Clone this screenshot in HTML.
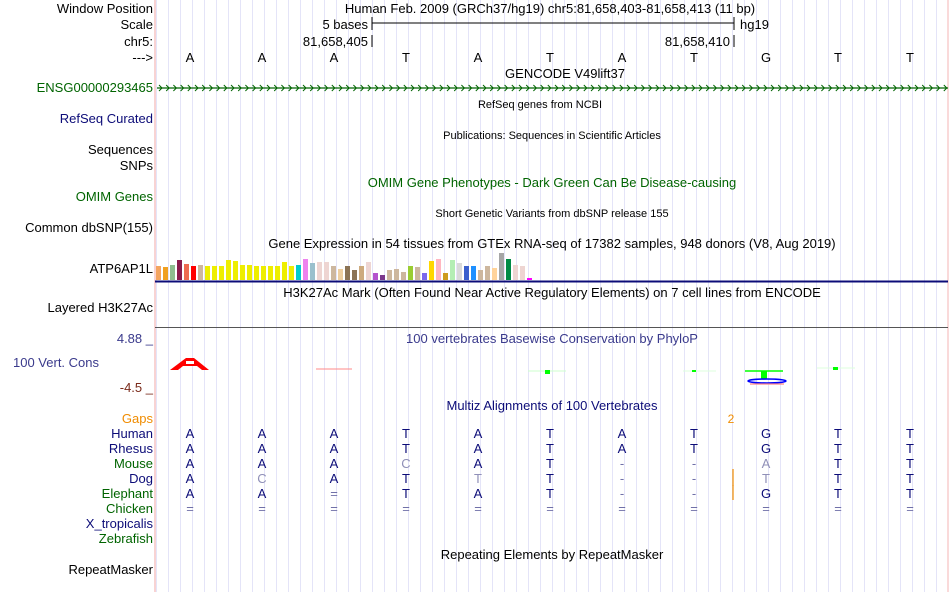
<!DOCTYPE html>
<html><head><meta charset="utf-8">
<style>
html,body{margin:0;padding:0;background:#fff;}
svg{display:block;font-family:"Liberation Sans",sans-serif;}
</style></head>
<body>
<svg id="ucsc" width="950" height="592" viewBox="0 0 950 592">
<g id="grid"></g>
<line x1="155" y1="0" x2="155" y2="592" stroke="#f4b6b6" stroke-width="1.2"/>
<g font-size="13" fill="#000" text-anchor="end">
<text x="153" y="13">Window Position</text>
<text x="153" y="29">Scale</text>
<text x="153" y="46">chr5:</text>
<text x="153" y="62">---&gt;</text>
<text x="153" y="92" fill="#006400">ENSG00000293465</text>
<text x="153" y="123" fill="#0c0c78">RefSeq Curated</text>
<text x="153" y="154">Sequences</text>
<text x="153" y="170">SNPs</text>
<text x="153" y="201" fill="#006400">OMIM Genes</text>
<text x="153" y="232">Common dbSNP(155)</text>
<text x="153" y="273">ATP6AP1L</text>
<text x="153" y="312">Layered H3K27Ac</text>
<text x="153" y="343" fill="#3a3a8c">4.88 _</text>
<text x="13" y="367" fill="#3a3a8c" text-anchor="start">100 Vert. Cons</text>
<text x="153" y="392" fill="#7a2a1a">-4.5 _</text>
<text x="153" y="423" fill="#f08c00">Gaps</text>
<text x="153" y="438" fill="#0c0c78">Human</text>
<text x="153" y="453" fill="#0c0c78">Rhesus</text>
<text x="153" y="468" fill="#006400">Mouse</text>
<text x="153" y="483" fill="#0c0c78">Dog</text>
<text x="153" y="498" fill="#006400">Elephant</text>
<text x="153" y="513" fill="#006400">Chicken</text>
<text x="153" y="528" fill="#0c0c78">X_tropicalis</text>
<text x="153" y="543" fill="#006400">Zebrafish</text>
<text x="153" y="574">RepeatMasker</text>
</g>
<g font-size="13" text-anchor="middle">
<text x="550" y="13">Human Feb. 2009 (GRCh37/hg19)   chr5:81,658,403-81,658,413 (11 bp)</text>
<text x="565" y="78">GENCODE V49lift37</text>
<text x="540" y="108" font-size="11">RefSeq genes from NCBI</text>
<text x="552" y="139" font-size="11">Publications: Sequences in Scientific Articles</text>
<text x="552" y="187" fill="#006400">OMIM Gene Phenotypes - Dark Green Can Be Disease-causing</text>
<text x="552" y="217" font-size="11">Short Genetic Variants from dbSNP release 155</text>
<text x="552" y="248">Gene Expression in 54 tissues from GTEx RNA-seq of 17382 samples, 948 donors (V8, Aug 2019)</text>
<text x="552" y="297">H3K27Ac Mark (Often Found Near Active Regulatory Elements) on 7 cell lines from ENCODE</text>
<text x="552" y="343" fill="#3a3a8c">100 vertebrates Basewise Conservation by PhyloP</text>
<text x="552" y="410" fill="#0c0c78">Multiz Alignments of 100 Vertebrates</text>
<text x="552" y="559">Repeating Elements by RepeatMasker</text>
</g>
<g>
<text x="368" y="29" font-size="13" text-anchor="end">5 bases</text>
<line x1="372" y1="23" x2="734" y2="23" stroke="#000"/>
<line x1="372" y1="17" x2="372" y2="30" stroke="#000"/>
<line x1="734" y1="17" x2="734" y2="30" stroke="#000"/>
<text x="740" y="29" font-size="13">hg19</text>
<text x="368" y="46" font-size="13" text-anchor="end">81,658,405</text>
<line x1="372" y1="35" x2="372" y2="47" stroke="#000"/>
<text x="730" y="46" font-size="13" text-anchor="end">81,658,410</text>
<line x1="734" y1="35" x2="734" y2="47" stroke="#000"/>
</g>
<g id="bases" font-size="13" text-anchor="middle"></g>
<g id="gene"></g>
<g id="gtex"></g>
<line x1="155" y1="281.5" x2="948" y2="281.5" stroke="#0c0c78" stroke-width="2"/>
<line x1="155" y1="327.5" x2="948" y2="327.5" stroke="#555" stroke-width="1"/>
<g>
<path d="M170 370 L186 358 L194 358 L209 370 L202 370 L197 366 L183 366 L178 370 Z" fill="#f00"/>
<rect x="186" y="361" width="8" height="3" fill="#fff"/>
<line x1="316" y1="369" x2="352" y2="369" stroke="#f88" stroke-width="1"/>
<line x1="528" y1="371" x2="566" y2="371" stroke="#cfc" stroke-width="1"/>
<rect x="545" y="370" width="5" height="4" fill="#0f0"/>
<line x1="683" y1="371" x2="716" y2="371" stroke="#dfd"/>
<rect x="692" y="370" width="4" height="2" fill="#0f0"/>
<line x1="745" y1="371" x2="783" y2="371" stroke="#0f0" stroke-width="1.5"/>
<rect x="761" y="371" width="6" height="8" fill="#0f0"/>
<ellipse cx="767" cy="381" rx="19" ry="2" fill="none" stroke="#00f" stroke-width="1.5"/>
<line x1="750" y1="384" x2="784" y2="384" stroke="#f88" stroke-width="1.2"/>
<line x1="817" y1="368" x2="855" y2="368" stroke="#dfd"/>
<rect x="833" y="367" width="5" height="3" fill="#0f0"/>
</g>
<text x="731" y="423" font-size="12" fill="#f08c00" text-anchor="middle">2</text>
<line x1="733" y1="469" x2="733" y2="486" stroke="#f08c00" stroke-width="1.2"/>
<line x1="733" y1="485" x2="733" y2="500" stroke="#f08c00" stroke-width="1.2"/>
<g id="align" font-size="13" text-anchor="middle"></g>
</svg>
<script>
// GTEx tissue expression data
const tissueColors = ["#f4a460","#f0a020","#8fbc8f","#8b1a4b","#ee6a50","#ff0000","#cdb79e","#eeee00","#eeee00","#eeee00","#eeee00","#eeee00","#eeee00","#eeee00","#eeee00","#eeee00","#eeee00","#eeee00","#eeee00","#eeee00","#00cdcd","#ee82ee","#9ac0cd","#eed5d2","#eed5d2","#cdb79e","#eecfa1","#8b7355","#8b7355","#cdaa7d","#eed5d2","#b452cd","#7a378b","#cdb79e","#cdb79e","#cdb79e","#9acd32","#cdb79e","#7b68ee","#ffd700","#ffb6c1","#cd9b1d","#b4eeb4","#d9d9d9","#3a5fcd","#1e90ff","#cdb79e","#cdb79e","#ffd39b","#a6a6a6","#008b45","#eed5d2","#eed5d2","#ff00ff"];
const tissueValues = [14,13,15,20,16,14,15,14,14,14,20,19,15,15,14,14,14,14,18,14,15,21,17,18,18,14,11,14,10,14,18,7,5,10,11,8,14,13,7,19,21,7,20,17,14,14,10,14,12,27,21,15,14,2];
const refBases = ["A","A","A","T","A","T","A","T","G","T","T"];
const speciesRows = ["Human","Rhesus","Mouse","Dog","Elephant","Chicken"];
const alignBases = [
 ["A","A","A","T","A","T","A","T","G","T","T"],
 ["A","A","A","T","A","T","A","T","G","T","T"],
 ["A","A","A","c","A","T","-","-","a","T","T"],
 ["A","c","A","T","t","T","-","-","t","T","T"],
 ["A","A","=","T","A","T","-","-","G","T","T"],
 ["=","=","=","=","=","=","=","=","=","=","="]
];
const NS="http://www.w3.org/2000/svg";
function baseX(i){return 190+72*i;}
function mk(tag,attrs,parent){const e=document.createElementNS(NS,tag);for(const k in attrs)e.setAttribute(k,attrs[k]);parent.appendChild(e);return e;}
const grid=document.getElementById('grid');
for(let x=156;x<948;x+=12){
 const l=mk('line',{x1:x+0.5,y1:0,x2:x+0.5,y2:592,stroke:'#e4e4f8','stroke-width':1},grid);
 
 
}
mk('line',{x1:948,y1:0,x2:948,y2:592,stroke:'#f4b6b6'},grid);
const bg=document.getElementById('bases');
refBases.forEach((b,i)=>{
 const t=mk('text',{x:baseX(i),y:62},bg);t.textContent=b;
 
 
});
const gg=document.getElementById('gene');
mk('line',{x1:157,y1:88,x2:948,y2:88,stroke:'#006400','stroke-width':1.3},gg);
let d='';for(let x=159;x<946;x+=7.2){d+=`M${x.toFixed(1)} 85 L${(x+3).toFixed(1)} 88 L${x.toFixed(1)} 91 `;}
mk('path',{d:d,stroke:'#006400',fill:'none','stroke-width':1},gg);
const gt=document.getElementById('gtex');
function barY(v){return 280-v;}
tissueValues.forEach((v,i)=>{
 const r=mk('rect',{x:156+7*i,y:barY(v),width:5,height:v,fill:tissueColors[i]},gt);
 
 
});
const ag=document.getElementById('align');
speciesRows.forEach((s,r)=>{
 alignBases[r].forEach((b,i)=>{
  let ch=b,fill='#0c0c78';
  if(b===b.toLowerCase()&&b!=='-'&&b!=='='){ch=b.toUpperCase();fill='#9090b8';}
  if(b==='-'||b==='=')fill='#7070a8';
  const t=mk('text',{x:baseX(i),y:438+15*r,fill:fill},ag);t.textContent=ch;
  
  
 });
});
</script>
</body></html>
